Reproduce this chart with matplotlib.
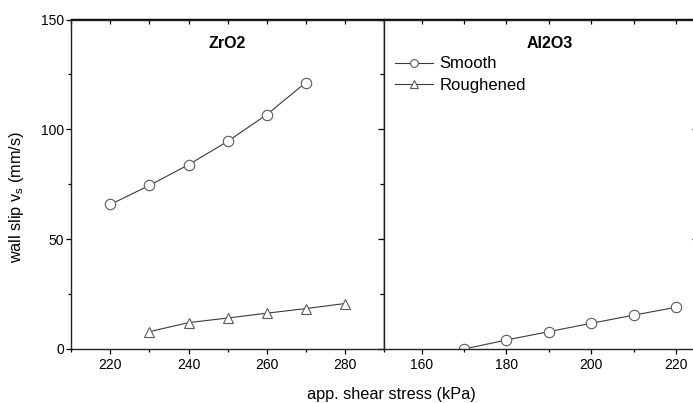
import numpy as np
import matplotlib.pyplot as plt
from matplotlib.ticker import MultipleLocator

plt.rcParams['font.family'] = ['Liberation Sans', 'DejaVu Sans']

# ZrO2 panel
zro2_smooth_x = [220, 230, 240, 250, 260, 270]
zro2_smooth_y = [65.8, 74.5, 83.9, 94.5, 106.7, 121.3]
zro2_rough_x = [230, 240, 250, 260, 270, 280]
zro2_rough_y = [7.9, 12.0, 14.1, 16.3, 18.4, 20.7]

# Al2O3 panel
al2o3_smooth_x = [170, 180, 190, 200, 210, 220]
al2o3_smooth_y = [0.0, 4.1, 7.9, 11.7, 15.4, 19.0]

W, H = 693, 403
fig = plt.figure(figsize=(W / 100, H / 100), dpi=100)

top_px, bot_px = 19.5, 349
ax1 = fig.add_axes([71.3 / W, 1 - bot_px / H, (384 - 71.3) / W, (bot_px - top_px) / H])
ax2 = fig.add_axes([384 / W, 1 - bot_px / H, 313.6 / W, (bot_px - top_px) / H])

LINE = '#3a3a3a'
EDGE = '#5a5a5a'
mk = dict(color=LINE, lw=0.8, mfc='white', mec=EDGE, mew=0.8, ms=7.5)

ax1.plot(zro2_smooth_x, zro2_smooth_y, marker='o', label='Smooth', **mk)
ax1.plot(zro2_rough_x, zro2_rough_y, marker='^', label='Roughened', **mk)
ax2.plot(al2o3_smooth_x, al2o3_smooth_y, marker='o', **mk)

ax1.set_xlim(210, 290)
ax2.set_xlim(151.1, 225.1)
for ax in (ax1, ax2):
    ax.set_ylim(0, 150)
    for s in ax.spines.values():
        s.set_linewidth(1.0)
        s.set_color('#222222')
    ax.yaxis.set_major_locator(MultipleLocator(50))
    ax.yaxis.set_minor_locator(MultipleLocator(25))
    ax.xaxis.set_major_locator(MultipleLocator(20))
    ax.xaxis.set_minor_locator(MultipleLocator(10))
    ax.tick_params(axis='x', which='major', direction='out', length=3.3, width=0.9,
                   labelsize=10, pad=3, top=False)
    ax.tick_params(axis='x', which='minor', direction='out', length=2.0, width=0.9, top=False)
    ax.tick_params(axis='y', which='major', direction='out', length=3.3, width=0.9,
                   labelsize=10, pad=2, right=False)
    ax.tick_params(axis='y', which='minor', direction='out', length=2.0, width=0.9, right=False)

    # top ticks pointing inward
    sx = ax.secondary_xaxis('top')
    sx.xaxis.set_major_locator(MultipleLocator(10))
    sx.tick_params(which='both', direction='in', length=3.5, width=0.9, labeltop=False)
    sx.spines['top'].set_linewidth(1.0)
    # right ticks pointing inward
    sy = ax.secondary_yaxis('right')
    sy.yaxis.set_major_locator(MultipleLocator(50))
    sy.yaxis.set_minor_locator(MultipleLocator(25))
    sy.tick_params(which='major', direction='in', length=4.0, width=0.9, labelright=False)
    sy.tick_params(which='minor', direction='in', length=3.0, width=0.9, labelright=False)

# right panel: no ticks on shared left spine
ax2.tick_params(axis='y', which='both', left=False, labelleft=False)

ax1.text(0.5, 0.928, 'ZrO2', transform=ax1.transAxes, ha='center', va='center',
         fontsize=11.5, fontweight='bold')
ax2.text(0.53, 0.928, 'Al2O3', transform=ax2.transAxes, ha='center', va='center',
         fontsize=11.5, fontweight='bold')

handles, labels = ax1.get_legend_handles_labels()
fig.legend(handles, labels, loc='upper left', bbox_to_anchor=(395 / W, 1 - 56.5 / H),
           frameon=False, fontsize=12, markerscale=0.75, handlelength=2.3,
           handletextpad=0.35, labelspacing=0.4, borderpad=0, borderaxespad=0)

fig.text(391 / W, 1 - 395 / H, 'app. shear stress (kPa)', ha='center', va='center',
         fontsize=11.7)
fig.text(17 / W, 1 - 197.5 / H, r'wall slip v$_\mathregular{s}$ (mm/s)', ha='center',
         va='center', rotation=90, fontsize=11.7)

fig.savefig('out.png', dpi=100)
